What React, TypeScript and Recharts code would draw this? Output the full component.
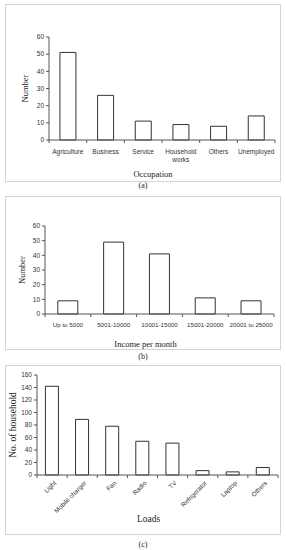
import React from 'react';
import { BarChart, Bar, XAxis, YAxis } from 'recharts';

const occupations = ['Agriculture', 'Business', 'Service', 'Household works', 'Others', 'Unemployed'];
const occupationCounts = [51, 26, 11, 9, 8, 14];
const occupationTicks = [0, 10, 20, 30, 40, 50, 60];

const incomes = ['Up to 5000', '5001-10000', '10001-15000', '15001-20000', '20001 to 25000'];
const incomeCounts = [9, 49, 41, 11, 9];
const incomeTicks = [0, 10, 20, 30, 40, 50, 60];

const loads = ['Light', 'Mobile charger', 'Fan', 'Radio', 'TV', 'Refrigerator', 'Laptop', 'Others'];
const loadCounts = [142, 89, 78, 54, 51, 7, 5, 12];
const loadTicks = [0, 20, 40, 60, 80, 100, 120, 140, 160];

const dataA = occupations.map((name, i) => ({ name, value: occupationCounts[i] }));
const dataB = incomes.map((name, i) => ({ name, value: incomeCounts[i] }));
const dataC = loads.map((name, i) => ({ name, value: loadCounts[i] }));

const AXIS = '#555';
const BORDER = '#d4d4d4';
const SANS = '"Liberation Sans", Arial, sans-serif';
const SERIF = '"Liberation Serif", "Times New Roman", serif';
const TICK_SIZE = 3;
const TICK_MARGIN = 6;

const BoundaryTicks = ({ x, y, payload, index, count }: any) => {
  const off = payload && payload.offset ? payload.offset : 0;
  const ay = y - TICK_SIZE - TICK_MARGIN;
  return (
    <g>
      <line x1={x - off} x2={x - off} y1={ay} y2={ay + TICK_SIZE} stroke={AXIS} />
      {index === count - 1 && (
        <line x1={x + off} x2={x + off} y1={ay} y2={ay + TICK_SIZE} stroke={AXIS} />
      )}
    </g>
  );
};

const makeHTick = (count: number, fontSize: number) => (props: any) => {
  const { x, y, payload } = props;
  const label: string = String(payload.value);
  const lines = label.length > 14 && label.indexOf(' ') > 0 ? label.split(' ') : [label];
  return (
    <g>
      <BoundaryTicks {...props} count={count} />
      <text x={x} y={y} textAnchor="middle" fontSize={fontSize} fontFamily={SANS} fill="#333">
        {lines.map((l, i) => (
          <tspan key={i} x={x} dy={i === 0 ? '0.71em' : '1.25em'}>{l}</tspan>
        ))}
      </text>
    </g>
  );
};

const makeRotTick = (count: number, fontSize: number) => (props: any) => {
  const { x, y, payload } = props;
  return (
    <g>
      <BoundaryTicks {...props} count={count} />
      <text
        x={x + 3}
        y={y - 2}
        textAnchor="end"
        fontSize={fontSize}
        fontFamily={SANS}
        fill="#333"
        transform={`rotate(-45, ${x + 3}, ${y - 2})`}
        dy="0.35em"
      >
        {payload.value}
      </text>
    </g>
  );
};

const yTickStyle = { fontSize: 6.5, fontFamily: SANS, fill: '#333' };

const boxStyle = (top: number, height: number): React.CSSProperties => ({
  position: 'absolute',
  left: 5,
  top,
  width: 276,
  height,
  border: `1px solid ${BORDER}`,
  boxSizing: 'border-box',
  background: '#fff',
});

const captionStyle = (top: number): React.CSSProperties => ({
  position: 'absolute',
  left: 0,
  width: 286,
  top,
  textAlign: 'center',
  fontFamily: SERIF,
  fontSize: 8,
  lineHeight: '10px',
  color: '#222',
});

export default function App() {
  return (
    <div style={{ position: 'absolute', left: 0, top: 0, width: 286, height: 550, background: '#fff', overflow: 'hidden' }}>
      {/* Panel (a) */}
      <div style={boxStyle(4, 178)}>
        <BarChart
          width={274}
          height={176}
          data={dataA}
          margin={{ top: 32, right: 5, left: 0, bottom: 0 }}
          barCategoryGap="29%"
        >
          <XAxis
            dataKey="name"
            stroke={AXIS}
            tickLine={false}
            tickSize={TICK_SIZE}
            tickMargin={TICK_MARGIN}
            interval={0}
            height={41}
            tick={makeHTick(occupations.length, 6.5)}
            label={{ value: 'Occupation', position: 'insideBottom', offset: 4, fontSize: 8.5, fontFamily: SERIF, fill: '#222', dx: -9 }}
          />
          <YAxis
            width={43}
            domain={[0, 60]}
            ticks={occupationTicks}
            stroke={AXIS}
            tickSize={TICK_SIZE}
            tickMargin={2}
            tick={yTickStyle}
            interval={0}
            label={{ value: 'Number', angle: -90, position: 'insideLeft', offset: 19, fontSize: 8.5, fontFamily: SERIF, fill: '#222', style: { textAnchor: 'middle' } }}
          />
          <Bar dataKey="value" fill="#fff" stroke="#333" strokeWidth={1} isAnimationActive={false} />
        </BarChart>
      </div>
      <div style={captionStyle(181)}>(a)</div>

      {/* Panel (b) */}
      <div style={boxStyle(196, 154)}>
        <BarChart
          width={274}
          height={152}
          data={dataB}
          margin={{ top: 29, right: 6, left: 0, bottom: 0 }}
          barCategoryGap="28%"
        >
          <XAxis
            dataKey="name"
            stroke={AXIS}
            tickLine={false}
            tickSize={TICK_SIZE}
            tickMargin={TICK_MARGIN}
            interval={0}
            height={35}
            tick={makeHTick(incomes.length, 6.2)}
            label={{ value: 'Income per month', position: 'insideBottom', offset: 2, fontSize: 8.5, fontFamily: SERIF, fill: '#222', dx: -14 }}
          />
          <YAxis
            width={39}
            domain={[0, 60]}
            ticks={incomeTicks}
            stroke={AXIS}
            tickSize={TICK_SIZE}
            tickMargin={2}
            tick={yTickStyle}
            interval={0}
            label={{ value: 'Number', angle: -90, position: 'insideLeft', offset: 16, fontSize: 8.5, fontFamily: SERIF, fill: '#222', style: { textAnchor: 'middle' } }}
          />
          <Bar dataKey="value" fill="#fff" stroke="#333" strokeWidth={1} isAnimationActive={false} />
        </BarChart>
      </div>
      <div style={captionStyle(352)}>(b)</div>

      {/* Panel (c) */}
      <div style={boxStyle(365, 170)}>
        <BarChart
          width={274}
          height={168}
          data={dataC}
          margin={{ top: 9, right: 2, left: 0, bottom: 0 }}
          barCategoryGap="28%"
        >
          <XAxis
            dataKey="name"
            stroke={AXIS}
            tickLine={false}
            tickSize={TICK_SIZE}
            tickMargin={TICK_MARGIN}
            interval={0}
            height={59}
            tick={makeRotTick(loads.length, 6.4)}
            label={{ value: 'Loads', position: 'insideBottom', offset: 12, fontSize: 9.5, fontFamily: SERIF, fill: '#222', dx: -9 }}
          />
          <YAxis
            width={31}
            domain={[0, 160]}
            ticks={loadTicks}
            stroke={AXIS}
            tickSize={TICK_SIZE}
            tickMargin={2}
            tick={yTickStyle}
            interval={0}
            label={{ value: 'No. of household', angle: -90, position: 'insideLeft', offset: 7, fontSize: 9.5, fontFamily: SERIF, fill: '#222', style: { textAnchor: 'middle' } }}
          />
          <Bar dataKey="value" fill="#fff" stroke="#333" strokeWidth={1} isAnimationActive={false} />
        </BarChart>
      </div>
      <div style={captionStyle(540)}>(c)</div>
    </div>
  );
}
